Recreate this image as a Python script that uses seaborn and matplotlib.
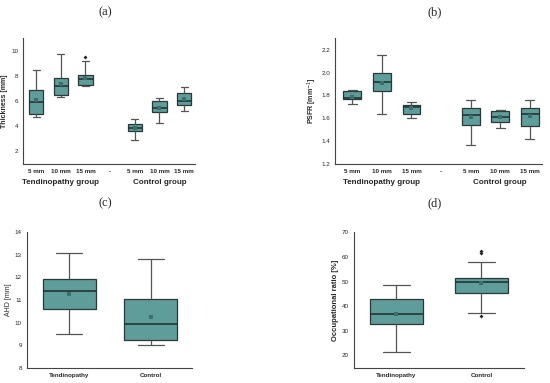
import numpy as np
import pandas as pd
import matplotlib.pyplot as plt
import seaborn as sns

# five-number summaries: whisker low, Q1, median, Q3, whisker high
sizes = ["5 mm", "10 mm", "15 mm"]
order_ab = ["T 5", "T 10", "T 15", "-", "C 5", "C 10", "C 15"]
ticks_ab = ["5 mm", "10 mm", "15 mm", "-", "5 mm", "10 mm", "15 mm"]
boxes_ab = ["T 5", "T 10", "T 15", "C 5", "C 10", "C 15"]

thick_stats = [
    [4.75, 5.0, 5.9, 6.85, 8.45],
    [6.3, 6.5, 7.15, 7.85, 9.7],
    [7.15, 7.3, 7.7, 8.05, 9.15],
    [2.9, 3.6, 3.85, 4.2, 4.55],
    [4.25, 5.1, 5.4, 6.0, 6.2],
    [5.2, 5.7, 6.0, 6.6, 7.1],
]
thick_means = [6.1, 7.35, 7.8, 3.85, 5.45, 6.15]
thick_out_cat = ["T 15"]
thick_out_val = [9.5]

psfr_stats = [
    [1.725, 1.765, 1.78, 1.84, 1.85],
    [1.64, 1.835, 1.92, 2.0, 2.15],
    [1.605, 1.635, 1.70, 1.715, 1.745],
    [1.37, 1.54, 1.63, 1.69, 1.76],
    [1.515, 1.565, 1.61, 1.66, 1.675],
    [1.415, 1.53, 1.635, 1.69, 1.76],
]
psfr_means = [1.79, 1.91, 1.69, 1.615, 1.61, 1.62]

groups_cd = ["Tendinopathy", "Control"]
ahd_stats = [
    [9.5, 10.6, 11.38, 11.93, 13.1],
    [9.0, 9.22, 9.92, 11.05, 12.8],
]
ahd_means = [11.27, 10.23]

occ_stats = [
    [21.5, 32.8, 36.7, 42.7, 48.5],
    [37.3, 45.5, 49.8, 51.5, 57.8],
]
occ_means = [37.0, 49.2]
occ_out_cat = ["Control", "Control", "Control"]
occ_out_val = [62.4, 61.7, 36.0]

BOX = "#5f9d9a"
EDGE = "#2a3838"
MEAN = "#3d6f6c"


def long_df(cats, stats):
    rows = []
    for c, s in zip(cats, stats):
        for v in s:
            rows.append((c, v))
    return pd.DataFrame(rows, columns=["cat", "val"])


def draw(ax, cats, order, stats, means, width, out_c=None, out_v=None):
    df = long_df(cats, stats)
    sns.boxplot(data=df, x="cat", y="val", order=order, ax=ax, whis=np.inf,
                color=BOX, saturation=1, linecolor=EDGE, linewidth=0.9,
                width=width,
                whiskerprops=dict(color="#555555", linewidth=0.9),
                capprops=dict(color="#555555", linewidth=0.9),
                medianprops=dict(color="#1f2d2d", linewidth=1.1))
    sns.stripplot(x=cats, y=means, order=order, ax=ax, jitter=False,
                  marker="s", size=2.2, color=MEAN, linewidth=0)
    if out_c is not None:
        sns.stripplot(x=out_c, y=out_v, order=order, ax=ax, jitter=False,
                      marker="D", size=2.0, color="#222222", linewidth=0)
    ax.set_xlabel("")
    sns.despine(ax=ax)
    for sp in ["left", "bottom"]:
        ax.spines[sp].set_color("#444444")
        ax.spines[sp].set_linewidth(0.8)
    ax.tick_params(axis="both", length=2, width=0.6, color="#444444",
                   labelsize=4.5, pad=1.5)


sns.set_style("white")
plt.rcParams["font.family"] = ["Liberation Sans", "DejaVu Sans"]

fig = plt.figure(figsize=(5.5, 3.83), dpi=100)
ax_a = fig.add_axes([0.042, 0.572, 0.313, 0.329])
ax_b = fig.add_axes([0.609, 0.572, 0.376, 0.328])
ax_c = fig.add_axes([0.0485, 0.040, 0.30, 0.3535])
ax_d = fig.add_axes([0.6436, 0.040, 0.309, 0.3535])

# (a) thickness
draw(ax_a, boxes_ab, order_ab, thick_stats, thick_means, 0.58,
     thick_out_cat, thick_out_val)
ax_a.set_ylim(1, 11)
ax_a.set_yticks([2, 4, 6, 8, 10])
ax_a.set_xlim(-0.53, 6.45)
ax_a.set_xticks(range(len(ticks_ab)))
ax_a.set_xticklabels(ticks_ab, fontweight="bold")
ax_a.set_ylabel("Thickness [mm]", fontsize=5, fontweight="bold", labelpad=2)

# (b) PSFR
draw(ax_b, boxes_ab, order_ab, psfr_stats, psfr_means, 0.6)
ax_b.set_ylim(1.2, 2.3)
ax_b.set_yticks([1.2, 1.4, 1.6, 1.8, 2.0, 2.2])
ax_b.set_yticklabels(["1.2", "1.4", "1.6", "1.8", "2.0", "2.2"])
ax_b.set_xlim(-0.58, 6.4)
ax_b.set_xticks(range(len(ticks_ab)))
ax_b.set_xticklabels(ticks_ab, fontweight="bold")
ax_b.set_ylabel("PSFR [mm$^{-1}$]", fontsize=5, fontweight="bold", labelpad=2)

for ax in (ax_a, ax_b):
    tr = ax.get_xaxis_transform()
    ax.text(1, -0.15, "Tendinopathy group", transform=tr, ha="center",
            va="center", fontsize=5.8, fontweight="bold")
    ax.text(5, -0.15, "Control group", transform=tr, ha="center",
            va="center", fontsize=5.8, fontweight="bold")

# (c) AHD
draw(ax_c, groups_cd, groups_cd, ahd_stats, ahd_means, 0.65)
ax_c.set_ylim(8, 14)
ax_c.set_yticks(range(8, 15))
ax_c.set_xlim(-0.52, 1.5)
ax_c.set_xticks([0, 1])
ax_c.set_xticklabels(groups_cd, fontweight="bold")
ax_c.set_ylabel("AHD [mm]", fontsize=5, labelpad=2)

# (d) occupational ratio
draw(ax_d, groups_cd, groups_cd, occ_stats, occ_means, 0.62,
     occ_out_cat, occ_out_val)
ax_d.set_ylim(15, 70)
ax_d.set_yticks([20, 30, 40, 50, 60, 70])
ax_d.set_xlim(-0.5, 1.5)
ax_d.set_xticks([0, 1])
ax_d.set_xticklabels(groups_cd, fontweight="bold")
ax_d.set_ylabel("Occupational ratio [%]", fontsize=5.5, fontweight="bold",
                labelpad=2)

for x, y, t in [(0.191, 0.969, "(a)"), (0.791, 0.969, "(b)"),
                (0.191, 0.47, "(c)"), (0.791, 0.47, "(d)")]:
    fig.text(x, y, t, ha="center", va="center", fontsize=9,
             family=["Liberation Serif", "DejaVu Serif"])

fig.savefig("out.png", dpi=100)
